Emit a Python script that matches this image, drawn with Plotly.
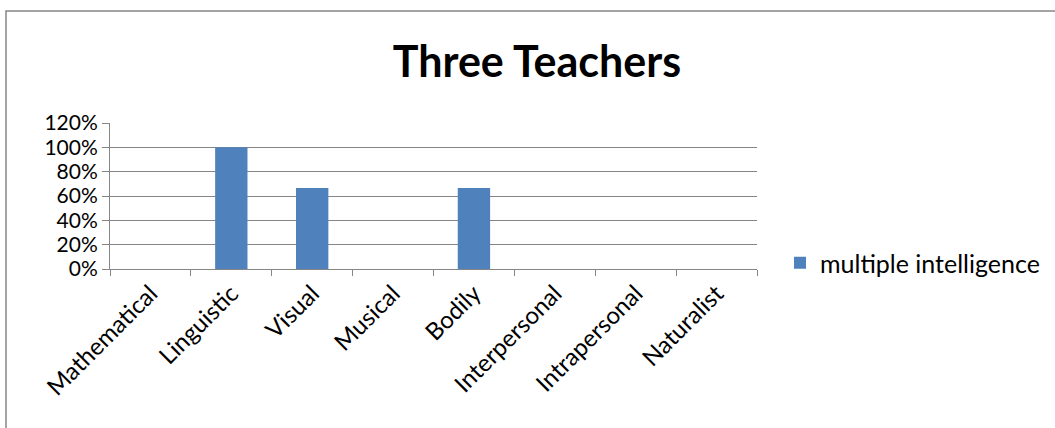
import plotly.graph_objects as go

categories = ["Mathematical", "Linguistic", "Visual", "Musical", "Bodily",
              "Interpersonal", "Intrapersonal", "Naturalist"]
values = [0, 1.0, 0.6667, 0, 0.6667, 0, 0, 0]
series_name = "multiple intelligence"
title_text = "Three Teachers"
y_ticks = [0, 0.2, 0.4, 0.6, 0.8, 1.0, 1.2]
y_ticklabels = ["0%", "20%", "40%", "60%", "80%", "100%", "120%"]

W, H = 1055, 428
L, R, T, B = 110, 298, 123, 159
pw, ph = W - L - R, H - T - B

FONT = "Lato"
GRID = "#868686"

fig = go.Figure()
fig.add_trace(go.Bar(x=categories, y=values, name=series_name,
                     marker=dict(color="#4F81BD", line=dict(width=0)),
                     width=0.4, showlegend=True))

def px(x):
    return (x - L) / pw

def py(y):
    return (H - B - y) / ph

fig.update_layout(
    width=W, height=H,
    margin=dict(l=L, r=R, t=T, b=B, autoexpand=False),
    paper_bgcolor="white", plot_bgcolor="white",
    font=dict(family=FONT, size=24, color="black"),
    title=dict(text="<b>" + title_text + "</b>", x=537 / W, xanchor="center",
               y=1 - 62 / H, yanchor="middle", xref="container", yref="container",
               font=dict(family=FONT, size=43, color="black")),
    showlegend=True,
    legend=dict(x=px(780), y=py(263), xanchor="left", yanchor="middle",
                font=dict(family=FONT, size=25), itemwidth=30,
                bgcolor="rgba(0,0,0,0)"),
    xaxis=dict(showgrid=False, showline=True, linecolor=GRID, linewidth=1,
               ticks="outside", tickson="boundaries", ticklen=6, tickcolor=GRID,
               tickangle=-45, tickfont=dict(family=FONT, size=24),
               range=[-0.5, 7.5], fixedrange=True, automargin=False),
    yaxis=dict(range=[0, 1.2], tickvals=y_ticks, ticktext=y_ticklabels,
               showgrid=True, gridcolor=GRID, gridwidth=1,
               showline=True, linecolor=GRID, linewidth=1,
               ticks="outside", ticklen=7, tickcolor=GRID,
               tickfont=dict(family=FONT, size=21), zeroline=False,
               fixedrange=True, automargin=False),
    shapes=[dict(type="rect", xref="paper", yref="paper",
                 x0=px(6), x1=px(W + 10), y0=py(H + 10), y1=py(11),
                 line=dict(color="#868686", width=1.5), fillcolor="rgba(0,0,0,0)",
                 layer="below")],
)

fig.write_html("out.html", config={"displayModeBar": False},
               post_script="document.body.style.margin='0';document.body.style.overflow='hidden';")
